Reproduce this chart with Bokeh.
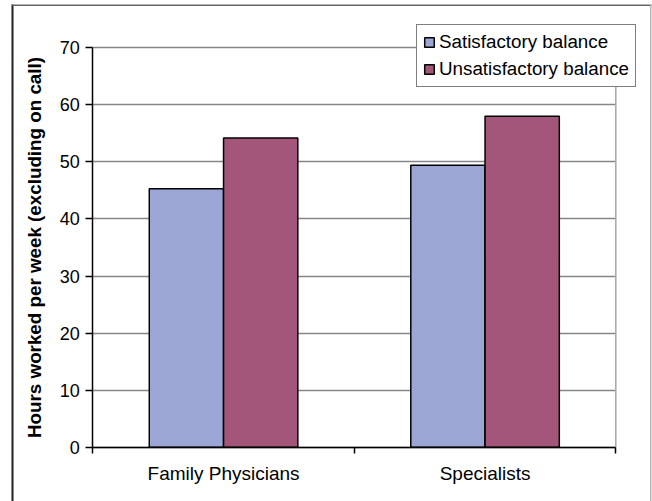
from bokeh.plotting import figure
from bokeh.models import (Range1d, FixedTicker, Legend, LegendItem,
                          BoxAnnotation, ColumnDataSource)
from bokeh.transform import dodge
from bokeh.embed import file_html
from bokeh.resources import INLINE

# Data
categories = ["Family Physicians", "Specialists"]
satisfactory = [45.3, 49.4]
unsatisfactory = [54.2, 58.0]
series_names = ["Satisfactory balance", "Unsatisfactory balance"]
y_ticks = [0, 10, 20, 30, 40, 50, 60, 70]
y_label = "Hours worked per week (excluding on call)"

FONT = "Liberation Sans"
SAT_COLOR = "#9BA6D4"
UNSAT_COLOR = "#A3567A"
GRID_COLOR = "#868686"
BAR_W = 0.284

# canvas size and the pixel edges of the plotting area inside it
W, H = 652, 501
AREA_L, AREA_R, AREA_T, AREA_B = 92.3, 615.3, 47.3, 446.7

n = len(categories)
x0, x1 = 0, n
y0, y1 = y_ticks[0], y_ticks[-1]
kx = (AREA_R - AREA_L) / (x1 - x0)
ky = (AREA_B - AREA_T) / (y1 - y0)
# the frame fills the whole canvas; ranges are widened so the data area sits inside
x_range = Range1d(x0 - AREA_L / kx, x1 + (W - AREA_R) / kx)
y_range = Range1d(y0 - (H - AREA_B) / ky, y1 + AREA_T / ky)

centers = [i + 0.5 for i in range(n)]
source = ColumnDataSource(dict(x=centers, sat=satisfactory, unsat=unsatisfactory))

p = figure(width=W, height=H, x_range=x_range, y_range=y_range,
           output_backend="svg", toolbar_location=None,
           min_border=0, min_border_left=0, min_border_right=0,
           min_border_top=0, min_border_bottom=0)
p.background_fill_color = "white"
p.border_fill_color = "white"
p.outline_line_color = None

# horizontal grid lines across the plotting area
grid = p.ygrid[0]
if "cross_bounds" in grid.properties():
    grid.cross_bounds = (x0, x1)
    grid.grid_line_color = GRID_COLOR
    grid.grid_line_width = 1.5
else:
    grid.visible = False
    p.segment(x0=[x0] * len(y_ticks), x1=[x1] * len(y_ticks), y0=y_ticks, y1=y_ticks,
              line_color=GRID_COLOR, line_width=1.5)
p.xgrid.visible = False

# right edge of the plotting area
p.segment(x0=[x1], x1=[x1], y0=[y0], y1=[y1], line_color="#a6a6a6", line_width=1.5)

r_sat = p.vbar(x=dodge("x", -BAR_W / 2), top="sat", width=BAR_W, source=source,
               fill_color=SAT_COLOR, line_color="black", line_width=1.5)
r_unsat = p.vbar(x=dodge("x", BAR_W / 2), top="unsat", width=BAR_W, source=source,
                 fill_color=UNSAT_COLOR, line_color="black", line_width=1.5)

# x axis: labels at category centres, tick marks at category boundaries
xa = p.xaxis[0]
xa.fixed_location = y0
xa.bounds = (x0, x1)
xa.ticker = FixedTicker(ticks=centers, minor_ticks=list(range(n + 1)))
xa.major_label_overrides = {c: lab for c, lab in zip(centers, categories)}
xa.major_tick_line_color = None
xa.major_tick_out = 0
xa.major_tick_in = 0
xa.minor_tick_line_color = "black"
xa.minor_tick_line_width = 1.5
xa.minor_tick_out = 6
xa.minor_tick_in = 0
xa.axis_line_color = "black"
xa.axis_line_width = 1.5
xa.major_label_text_font = FONT
xa.major_label_text_font_size = "19px"
xa.major_label_text_color = "black"
xa.major_label_standoff = 10

ya = p.yaxis[0]
ya.fixed_location = x0
ya.bounds = (y0, y1)
ya.ticker = FixedTicker(ticks=y_ticks, minor_ticks=[])
ya.major_tick_out = 7
ya.major_tick_in = 0
ya.major_tick_line_color = "black"
ya.major_tick_line_width = 1.5
ya.minor_tick_line_color = None
ya.axis_line_color = "black"
ya.axis_line_width = 1.5
ya.major_label_text_font = FONT
ya.major_label_text_font_size = "18px"
ya.major_label_text_color = "black"
ya.major_label_standoff = 6
ya.axis_label = y_label
ya.axis_label_text_font = FONT
ya.axis_label_text_font_size = "18.8px"
ya.axis_label_text_font_style = "bold"
ya.axis_label_text_color = "black"
ya.axis_label_standoff = 11

legend = Legend(items=[LegendItem(label=series_names[0], renderers=[r_sat]),
                       LegendItem(label=series_names[1], renderers=[r_unsat])],
                location=(416, H - 87))
legend.border_line_color = "black"
legend.border_line_width = 1
legend.background_fill_color = "white"
legend.background_fill_alpha = 1
legend.label_text_font = FONT
legend.label_text_font_size = "18.8px"
legend.label_text_color = "black"
legend.glyph_width = 12
legend.glyph_height = 12
legend.label_standoff = 4
legend.padding = 6
legend.spacing = 5
legend.margin = 0
p.add_layout(legend)

# outer panel border
for l, r, t, b, c in [(11, 13, 4, H, "#222222"),
                      (11, 651, 4, 5.5, "#666666"),
                      (649.5, 651, 4, H, "#b4b4b4")]:
    p.add_layout(BoxAnnotation(left=l, right=r, top=t, bottom=b,
                               left_units="canvas", right_units="canvas",
                               top_units="canvas", bottom_units="canvas",
                               fill_color=c, fill_alpha=1, line_color=None))

open("out.html", "w").write(file_html(p, INLINE))
